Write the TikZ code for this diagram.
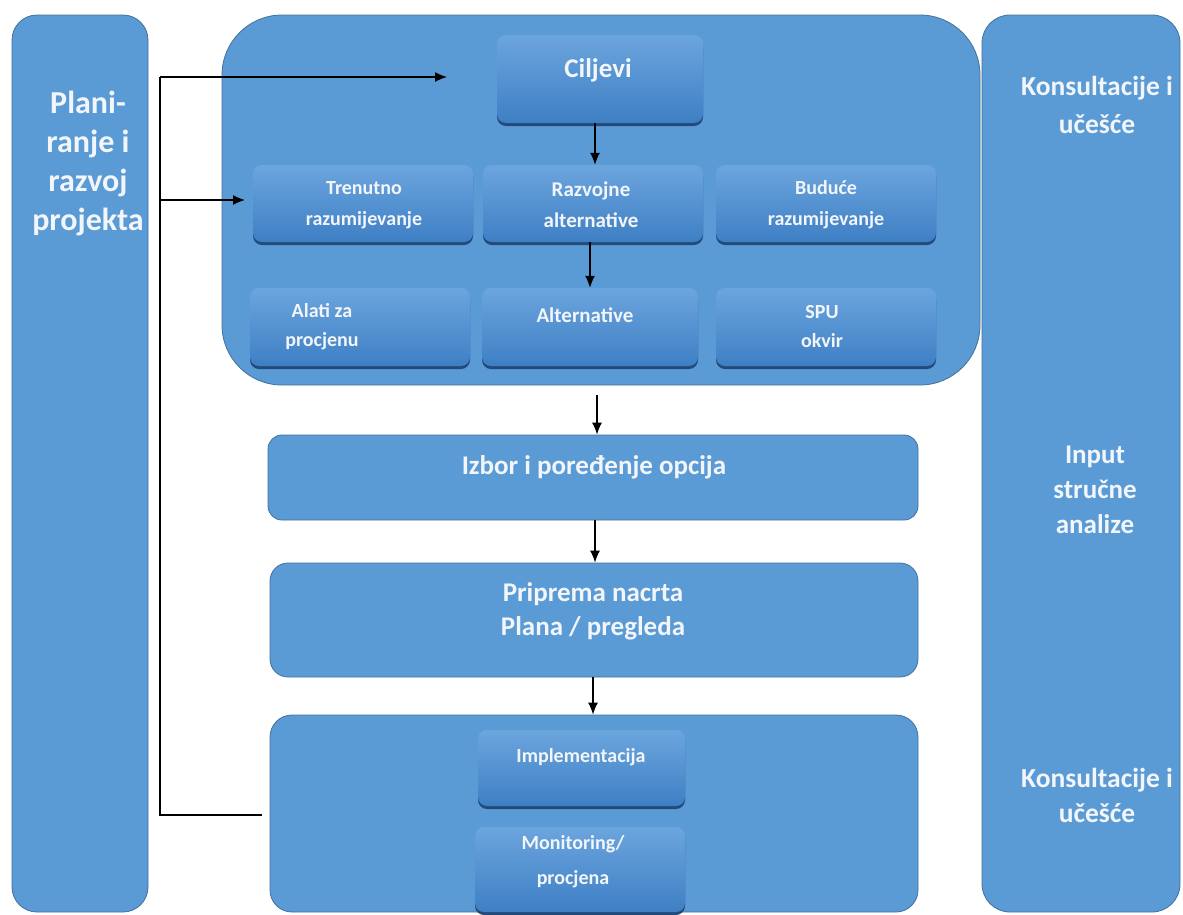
\documentclass[tikz,border=0pt]{standalone}
\usepackage{fontspec}
\setmainfont{Carlito}
\usetikzlibrary{shadows,arrows.meta,calc}
\definecolor{boxblue}{RGB}{91,155,213}
\definecolor{boxline}{RGB}{65,113,156}
\definecolor{innertop}{RGB}{108,165,222}
\definecolor{innerbot}{RGB}{62,127,196}
\definecolor{shadecol}{RGB}{36,74,124}
\definecolor{txtw}{RGB}{242,245,250}
\begin{document}
\begin{tikzpicture}[x=1pt,y=-1pt,
  outer/.style={draw=boxline, line width=0.8pt, fill=boxblue, inner sep=0pt},
  inner/.style={rounded corners=9pt, top color=innertop, bottom color=innerbot, draw=none, inner sep=0pt,
     drop shadow={shadow xshift=0pt, shadow yshift=-3pt, fill=shadecol, opacity=1}},
  lbl/.style 2 args={text=txtw, font=\bfseries\fontsize{#1}{#2}\selectfont, align=center, inner sep=0pt},
  arr/.style={-{Latex[length=12pt,width=10pt]}, line width=1.3pt, black},
  fb/.style={line width=1.3pt, black}]
\clip (0,0) rectangle (1183,914);
\fill[white] (0,0) rectangle (1183,914);

% outer boxes
\node[outer, rounded corners=25pt, minimum width=136pt, minimum height=897pt] (left) at (80,463.5) {};
\node[outer, rounded corners=28pt, minimum width=198pt, minimum height=897pt] (right) at (1081,463.5) {};
\node[outer, rounded corners=60pt, minimum width=758pt, minimum height=370pt] (top) at (601,200) {};
\node[outer, rounded corners=14pt, minimum width=650pt, minimum height=85pt] (izb) at (593,477.5) {};
\node[outer, rounded corners=18pt, minimum width=648pt, minimum height=114pt] (pri) at (594,620) {};
\node[outer, rounded corners=22pt, minimum width=648pt, minimum height=197pt] (bot) at (594,813.5) {};

% inner boxes
\node[inner, minimum width=206pt, minimum height=88pt] (cil) at (600,79) {};
\node[inner, minimum width=220pt, minimum height=77pt] (tre) at (363,203.5) {};
\node[inner, minimum width=220pt, minimum height=77pt] (raz) at (593,203.5) {};
\node[inner, minimum width=220pt, minimum height=77pt] (bud) at (826,203.5) {};
\node[inner, minimum width=220pt, minimum height=78pt] (ala) at (360,327) {};
\node[inner, minimum width=216pt, minimum height=78pt] (alt) at (590,327) {};
\node[inner, minimum width=220pt, minimum height=78pt] (spu) at (826,327) {};
\node[inner, minimum width=207pt, minimum height=76pt] (imp) at (581.5,768) {};
\node[inner, minimum width=210pt, minimum height=85pt] (mon) at (580,869.5) {};

% labels
\node[lbl={32}{39}] (tleft) at (88,163) {Plani-\\ranje i\\razvoj\\projekta};
\node[lbl={27.5}{38}] (trt1) at (1097,105) {Konsultacije i\\učešće};
\node[lbl={27}{35}] (trt2) at (1095,490) {Input\\stručne\\analize};
\node[lbl={27.5}{35}] (trt3) at (1097,795) {Konsultacije i\\učešće};
\node[lbl={27}{30}] (tcil) at (598,70) {Ciljevi};
\node[lbl={20}{31}] (ttre) at (364,205) {Trenutno\\razumijevanje};
\node[lbl={21}{31}] (traz) at (591,205) {Razvojne\\alternative};
\node[lbl={20}{31}] (tbud) at (826,205) {Buduće\\razumijevanje};
\node[lbl={20}{29}] (tala) at (322,327) {Alati za\\procjenu};
\node[lbl={21}{29}] (talt) at (585,315) {Alternative};
\node[lbl={20}{29}] (tspu) at (822,327) {SPU\\okvir};
\node[lbl={27}{30}] (tizb) at (594,467) {Izbor i poređenje opcija};
\node[lbl={27}{34}] (tpri) at (593,611) {Priprema nacrta\\Plana / pregleda};
\node[lbl={20}{30}] (timp) at (581,757) {Implementacija};
\node[lbl={20}{35}] (tmon) at (573,862) {Monitoring/\\procjena};

% main flow arrows
\draw[arr] (cil.south -| 595,0) -- (raz.north -| 595,0);
\draw[arr] (raz.south -| 590,0) -- (alt.north -| 590,0);
\coordinate (topout) at (597,395);
\draw[arr] (topout) -- (izb.north -| topout);
\draw[arr] (izb.south -| 595,0) -- (pri.north -| 595,0);
\draw[arr] (pri.south -| 593,0) -- (bot.north -| 593,0);

% feedback loop
\coordinate (fbstart) at (262,815);
\coordinate (fbcorner) at (160,815);
\coordinate (fbtop) at (160,77);
\coordinate (fbmid) at (160,200);
\coordinate (fbend) at (447,77);
\draw[fb] (fbstart) -- (fbcorner) -- (fbtop);
\draw[arr] (fbtop) -- (fbend);
\draw[arr] (fbmid) -- (fbmid -| 245,0);
\end{tikzpicture}
\end{document}
